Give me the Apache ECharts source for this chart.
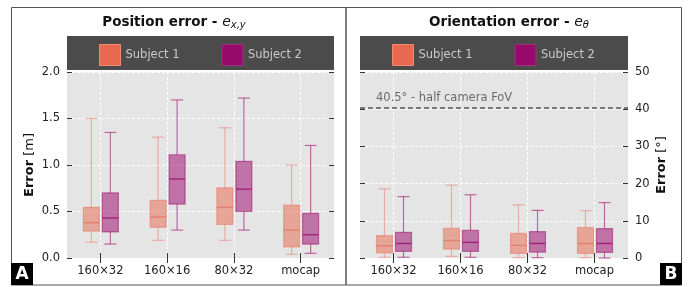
<!DOCTYPE html>
<html>
<head>
<meta charset="utf-8">
<script src="https://cdn.jsdelivr.net/npm/echarts@6/dist/echarts.min.js"></script>
<style>
html,body{margin:0;padding:0;background:#fff;}
#chart{width:696px;height:287px;}
</style>
</head>
<body>
<div id="chart"></div>
<script>
// ---- data (each box: [min, q1, median, q3, max]) ----
const categories = ['160×32', '160×16', '80×32', 'mocap'];
const seriesNames = ['Subject 1', 'Subject 2'];
const posSubject1 = [
  [0.17, 0.29, 0.38, 0.545, 1.50],
  [0.19, 0.33, 0.44, 0.62, 1.30],
  [0.19, 0.36, 0.545, 0.755, 1.40],
  [0.04, 0.12, 0.30, 0.57, 1.00]
];
const posSubject2 = [
  [0.15, 0.28, 0.43, 0.70, 1.35],
  [0.30, 0.58, 0.85, 1.11, 1.70],
  [0.30, 0.50, 0.74, 1.04, 1.72],
  [0.05, 0.15, 0.25, 0.48, 1.21]
];
const oriSubject1 = [
  [0.2, 1.4, 3.3, 6.0, 18.6],
  [0.45, 2.4, 4.7, 8.0, 19.6],
  [0.1, 1.25, 3.4, 6.6, 14.3],
  [0.1, 1.25, 3.9, 8.2, 12.7]
];
const oriSubject2 = [
  [0.2, 1.8, 3.9, 6.9, 16.5],
  [0.2, 1.8, 4.2, 7.4, 17.0],
  [0.1, 1.6, 3.9, 7.1, 12.8],
  [0.0, 1.5, 3.9, 7.9, 14.9]
];
const posTicks = [0, 0.5, 1.0, 1.5, 2.0];
const oriTicks = [0, 10, 20, 30, 40, 50];
const fovLine = 40.5;
const fovLabel = '40.5° - half camera FoV';

// ---- styles ----
const FONT = 'DejaVu Sans';
const styles = [
  { legend: '#e8694f', fill: 'rgba(232,105,79,0.52)', edge: 'rgba(232,105,79,0.45)', median: 'rgba(222,100,75,0.55)', whisker: 'rgba(232,105,79,0.45)' },
  { legend: '#950a6a', fill: 'rgba(158,20,115,0.55)', edge: 'rgba(150,10,106,0.5)', median: 'rgba(150,10,106,0.75)', whisker: 'rgba(160,20,115,0.6)' }
];
const offsets = [-9, 10];

function toRows(arr) { return arr.map((b, i) => [i].concat(b)); }

function makeRender(si) {
  const st = styles[si];
  return function (params, api) {
    const c = api.value(0);
    const pMin = api.coord([c, api.value(1)]);
    const pQ1 = api.coord([c, api.value(2)]);
    const pMed = api.coord([c, api.value(3)]);
    const pQ3 = api.coord([c, api.value(4)]);
    const pMax = api.coord([c, api.value(5)]);
    const x = pMin[0] + offsets[si];
    const hw = 8, cw = 6;
    const wl = { stroke: st.whisker, lineWidth: 1.2 };
    return {
      type: 'group',
      children: [
        { type: 'line', shape: { x1: x, y1: pMax[1], x2: x, y2: pQ3[1] }, style: wl },
        { type: 'line', shape: { x1: x - cw, y1: pMax[1], x2: x + cw, y2: pMax[1] }, style: wl },
        { type: 'line', shape: { x1: x, y1: pQ1[1], x2: x, y2: pMin[1] }, style: wl },
        { type: 'line', shape: { x1: x - cw, y1: pMin[1], x2: x + cw, y2: pMin[1] }, style: wl },
        { type: 'rect', shape: { x: x - hw, y: pQ3[1], width: hw * 2, height: pQ1[1] - pQ3[1] },
          style: { fill: st.fill, stroke: st.edge, lineWidth: 1.2 } },
        { type: 'line', shape: { x1: x - hw, y1: pMed[1], x2: x + hw, y2: pMed[1] },
          style: { stroke: st.median, lineWidth: 1.4 } }
      ]
    };
  };
}

const grids = [
  { left: 67, width: 267, top: 72, height: 186, show: true, backgroundColor: '#e5e5e5', borderWidth: 0 },
  { left: 360, width: 268, top: 72, height: 186, show: true, backgroundColor: '#e5e5e5', borderWidth: 0 }
];

const tickStyle = { show: true, inside: true, length: 5, lineStyle: { color: '#333', width: 1 } };
const splitStyle = { show: true, lineStyle: { color: '#ffffff', type: [3, 2], width: 1 } };

function xAxes(gi) {
  return [
    { type: 'category', gridIndex: gi, data: categories, position: 'bottom',
      axisLine: { show: false }, axisTick: Object.assign({ alignWithLabel: true }, tickStyle),
      splitLine: Object.assign({ alignWithLabel: true }, splitStyle),
      axisLabel: { color: '#222', fontSize: 11.5, fontFamily: FONT, margin: 7 } },
    { type: 'category', gridIndex: gi, data: categories, position: 'top',
      axisLine: { show: false }, axisTick: Object.assign({ alignWithLabel: true }, tickStyle),
      splitLine: { show: false }, axisLabel: { show: false } }
  ];
}

const nameStyle = { fontSize: 13, color: '#111', fontFamily: FONT, rich: { b: { fontSize: 13, fontWeight: 'bold', color: '#111', fontFamily: FONT } } };

const yAxes = [
  { type: 'value', gridIndex: 0, position: 'left', min: posTicks[0], max: posTicks[posTicks.length - 1], interval: 0.5,
    axisLine: { show: false }, axisTick: tickStyle, splitLine: splitStyle,
    axisLabel: { color: '#222', fontSize: 11.5, fontFamily: FONT, margin: 7, formatter: v => v.toFixed(1) },
    name: '{b|Error} [m]', nameLocation: 'middle', nameRotate: 90, nameGap: 31, nameTextStyle: nameStyle },
  { type: 'value', gridIndex: 0, position: 'right', min: posTicks[0], max: posTicks[posTicks.length - 1], interval: 0.5,
    axisLine: { show: false }, axisTick: tickStyle, splitLine: { show: false }, axisLabel: { show: false } },
  { type: 'value', gridIndex: 1, position: 'right', min: oriTicks[0], max: oriTicks[oriTicks.length - 1], interval: 10,
    axisLine: { show: false }, axisTick: tickStyle, splitLine: splitStyle,
    axisLabel: { color: '#222', fontSize: 11.5, fontFamily: FONT, margin: 7 },
    name: '{b|Error} [°]', nameLocation: 'middle', nameRotate: 90, nameGap: 27, nameTextStyle: nameStyle },
  { type: 'value', gridIndex: 1, position: 'left', min: oriTicks[0], max: oriTicks[oriTicks.length - 1], interval: 10,
    axisLine: { show: false }, axisTick: tickStyle, splitLine: { show: false }, axisLabel: { show: false } }
];

function boxSeries(name, data, si, xi, yi, extra) {
  return Object.assign({
    type: 'custom', name: name, xAxisIndex: xi, yAxisIndex: yi,
    data: toRows(data), encode: { x: 0, y: [1, 2, 3, 4, 5] },
    itemStyle: { color: styles[si].legend },
    renderItem: makeRender(si), clip: false, silent: true
  }, extra || {});
}

const series = [
  boxSeries(seriesNames[0], posSubject1, 0, 0, 0),
  boxSeries(seriesNames[1], posSubject2, 1, 0, 0),
  boxSeries(seriesNames[0], oriSubject1, 0, 2, 2, {
    markLine: {
      silent: true, symbol: ['none', 'none'],
      lineStyle: { color: '#555', type: [5, 3], width: 1.5 },
      label: { show: true, position: 'insideStartTop', formatter: fovLabel, color: '#6a6a6a', fontSize: 11.5, fontFamily: FONT, distance: [16, 3] },
      data: [{ yAxis: fovLine }]
    }
  }),
  boxSeries(seriesNames[1], oriSubject2, 1, 2, 2)
];

function legendData() {
  return seriesNames.map((n, i) => ({ name: n, icon: 'rect', itemStyle: { color: styles[i].legend, borderColor: i === 0 ? '#f08a72' : '#a0307a', borderWidth: 1 } }));
}
const legendCommon = { top: 44, padding: 0, itemWidth: 21, itemHeight: 21, itemGap: 42, selectedMode: false,
  textStyle: { color: '#cacaca', fontSize: 11.5, fontFamily: FONT } };

const titleRich = {
  b: { fontSize: 13.5, fontWeight: 'bold', color: '#111', fontFamily: FONT },
  i: { fontSize: 14, fontStyle: 'italic', fontWeight: 'normal', color: '#111', fontFamily: FONT },
  s: { fontSize: 10, fontStyle: 'italic', fontWeight: 'normal', color: '#111', fontFamily: FONT, verticalAlign: 'bottom', padding: [6, 0, 0, 0] }
};

const option = {
  animation: false,
  backgroundColor: '#ffffff',
  title: [
    { text: '{b|Position error - }{i|e}{s|x,y}', left: 174, top: 14, textAlign: 'center', padding: 0, textStyle: { fontWeight: 'normal', rich: titleRich } },
    { text: '{b|Orientation error - }{i|e}{s|θ}', left: 509, top: 14, textAlign: 'center', padding: 0, textStyle: { fontWeight: 'normal', rich: titleRich } }
  ],
  legend: [
    Object.assign({ left: 99, data: legendData() }, legendCommon),
    Object.assign({ left: 392, data: legendData() }, legendCommon)
  ],
  grid: grids,
  xAxis: xAxes(0).concat(xAxes(1)),
  yAxis: yAxes,
  series: series,
  graphic: [
    { type: 'rect', shape: { x: 11.5, y: 7.5, width: 334.5, height: 277.5 }, style: { fill: 'none', stroke: '#555', lineWidth: 1 }, z: 10 },
    { type: 'rect', shape: { x: 346, y: 7.5, width: 335.5, height: 277.5 }, style: { fill: 'none', stroke: '#555', lineWidth: 1 }, z: 10 },
    { type: 'rect', shape: { x: 67, y: 36, width: 267, height: 34 }, style: { fill: '#4b4b4b' }, z: 0 },
    { type: 'rect', shape: { x: 360, y: 36, width: 268, height: 34 }, style: { fill: '#4b4b4b' }, z: 0 },
    { type: 'rect', shape: { x: 11, y: 263, width: 22, height: 22 }, style: { fill: '#000' }, z: 11 },
    { type: 'text', x: 22, y: 274.5, style: { text: 'A', fill: '#fff', font: 'bold 17px "DejaVu Sans"', align: 'center', verticalAlign: 'middle' }, z: 12 },
    { type: 'rect', shape: { x: 660, y: 263, width: 22, height: 22 }, style: { fill: '#000' }, z: 11 },
    { type: 'text', x: 671, y: 274.5, style: { text: 'B', fill: '#fff', font: 'bold 17px "DejaVu Sans"', align: 'center', verticalAlign: 'middle' }, z: 12 }
  ]
};

const chart = echarts.init(document.getElementById('chart'), null, { renderer: 'canvas' });
chart.setOption(option);
</script>
</body>
</html>
